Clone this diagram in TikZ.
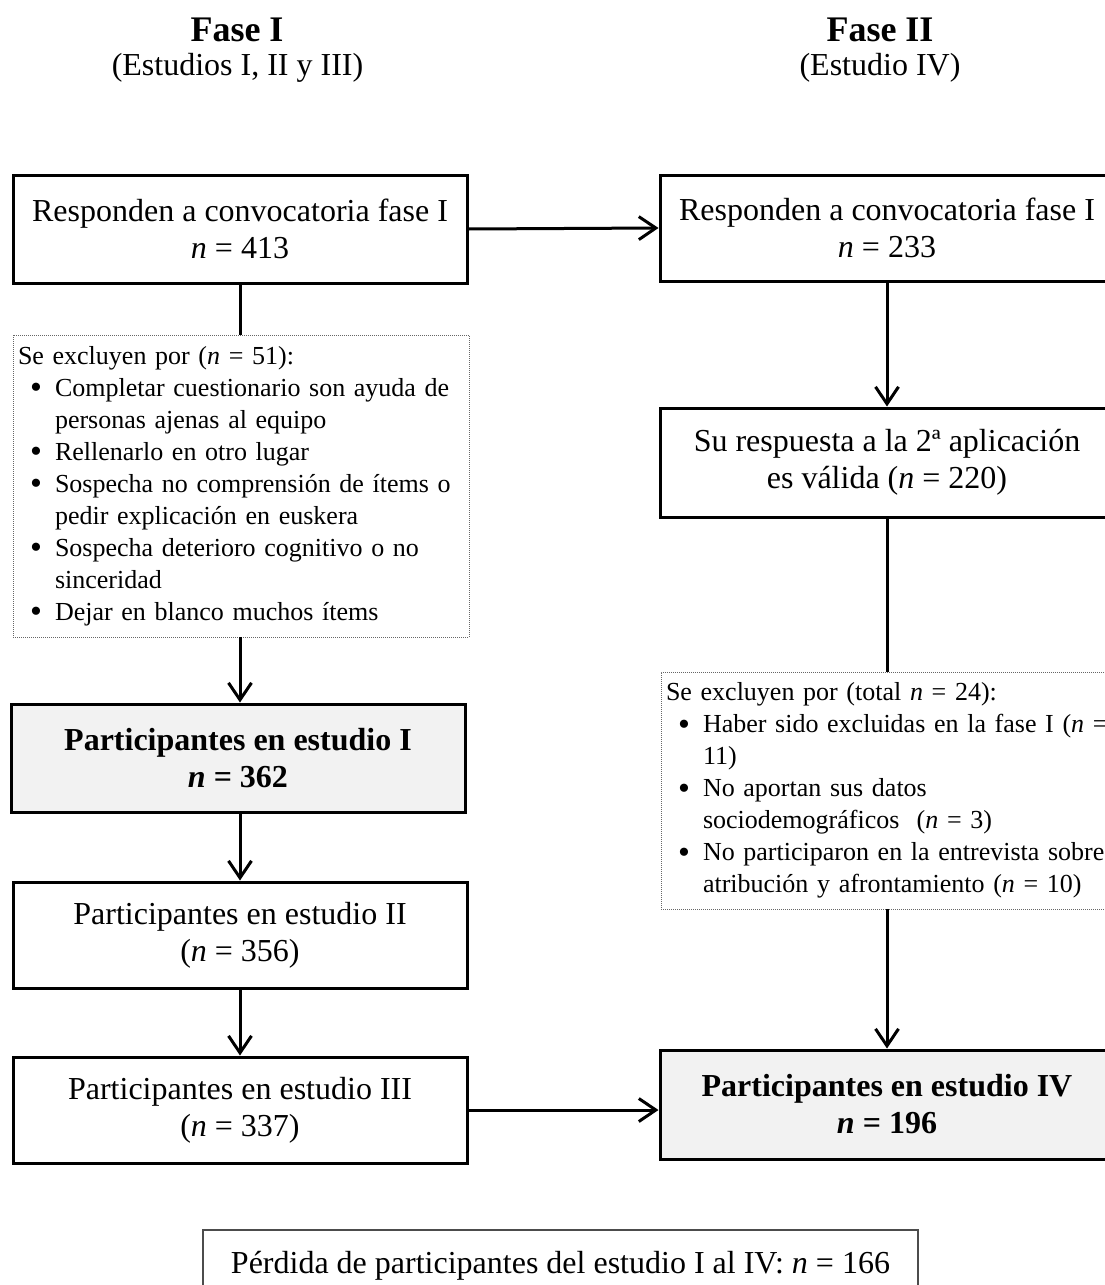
\documentclass[tikz,border=0pt]{standalone}
\usepackage{fontspec}
\setmainfont{Liberation Serif}
\usetikzlibrary{arrows.meta}
\definecolor{boxgray}{HTML}{F2F2F2}
\newcommand\boxfont{\fontsize{32}{37}\selectfont}
\newcommand\exfont{\fontsize{26}{32}\selectfont}
\newcommand\bul{\raisebox{-2.5pt}{\fontsize{34}{34}\selectfont\textbullet}}
\newenvironment{exlist}{\begin{list}{\bul}{\setlength\leftmargin{37pt}\setlength\labelwidth{12pt}\setlength\labelsep{13pt}\setlength\itemsep{0pt}\setlength\parsep{0pt}\setlength\topsep{0pt}\setlength\partopsep{0pt}\setlength\itemindent{0pt}}\raggedright}{\end{list}}
\tikzset{
  box/.style={draw, line width=3pt, minimum width=454pt, minimum height=108pt, align=center, font=\boxfont, inner sep=0pt},
  gbox/.style={box, fill=boxgray},
  dbox/.style={draw=black!60, line width=0.8pt, dash pattern=on 1pt off 1pt, inner xsep=5pt, inner ysep=0pt, font=\exfont},
  lossbox/.style={draw=black!70, line width=1.2pt, minimum width=715pt, minimum height=72pt, font=\boxfont, inner sep=0pt},
  arr/.style={line width=3pt, -{Straight Barb[length=17pt,width=23pt]}},
  con/.style={line width=3pt},
  ttl/.style={anchor=base, font=\fontsize{36}{40}\selectfont\bfseries, inner sep=0pt},
  sub/.style={anchor=base, font=\fontsize{32}{37}\selectfont, inner sep=0pt}
}
\begin{document}
\begin{tikzpicture}[x=1pt,y=-1pt]
\useasboundingbox (0,0) rectangle (1105,1285);
% titles
\node[ttl] (t1) at (237,41) {Fase I};
\node[sub] (t1s) at (237.5,75) {(Estudios I, II y III)};
\node[ttl] (t2) at (880,41) {Fase II};
\node[sub] (t2s) at (880,75) {(Estudio IV)};
% left column
\node[box, minimum height=108pt] (A) at (240,229) {Responden a convocatoria fase I\\\textit{n} = 413};
\node[dbox, text width=446pt, minimum height=302pt] (L) at (241,486) {\raggedright Se excluyen por (\textit{n} = 51):
\begin{exlist}
\item Completar cuestionario son ayuda de\\personas ajenas al equipo
\item Rellenarlo en otro lugar
\item Sospecha no comprensión de ítems o\\pedir explicación en euskera
\item Sospecha deterioro cognitivo o no\\sinceridad
\item Dejar en blanco muchos ítems
\end{exlist}};
\node[gbox] (C) at (238,758) {\textbf{Participantes en estudio I}\\\textbf{\textit{n} = 362}};
\node[box, minimum height=106pt] (D) at (240,935) {Participantes en estudio II\\(\textit{n} = 356)};
\node[box, minimum height=106pt] (E) at (240,1110) {Participantes en estudio III\\(\textit{n} = 337)};
% right column
\node[box, minimum height=106pt] (B) at (887,228) {Responden a convocatoria fase I\\\textit{n} = 233};
\node[box, minimum height=109pt] (G) at (887,462.5) {Su respuesta a la 2ª aplicación\\es válida (\textit{n} = 220)};
\node[dbox, text width=470pt, minimum height=237pt] (H) at (901,790.5) {\raggedright Se excluyen por (total \textit{n} = 24):
\begin{exlist}
\item Haber sido excluidas en la fase I (\textit{n} =\\11)
\item No aportan sus datos\\sociodemográficos\ \ (\textit{n} = 3)
\item No participaron en la entrevista sobre\\atribución y afrontamiento (\textit{n} = 10)
\end{exlist}};
\node[gbox, minimum height=109pt] (F) at (887,1104.5) {\textbf{Participantes en estudio IV}\\\textbf{\textit{n} = 196}};
% loss
\node[lossbox] (loss) at (560.5,1266) {Pérdida de participantes del estudio I al IV: \textit{n} = 166};
% connectors
\draw[arr] (A.east) -- (B.west);
\draw[con] (A.south) -- (A.south |- L.north);
\draw[arr] (A.south |- L.south) -- (A.south |- C.north);
\draw[arr] (C.south -| D.north) -- (D.north);
\draw[arr] (D.south) -- (E.north);
\draw[arr] (E.east) -- (E.east -| F.west);
\draw[arr] (B.south) -- (G.north);
\draw[con] (G.south) -- (G.south |- H.north);
\draw[arr] (G.south |- H.south) -- (G.south |- F.north);
\end{tikzpicture}
\end{document}
